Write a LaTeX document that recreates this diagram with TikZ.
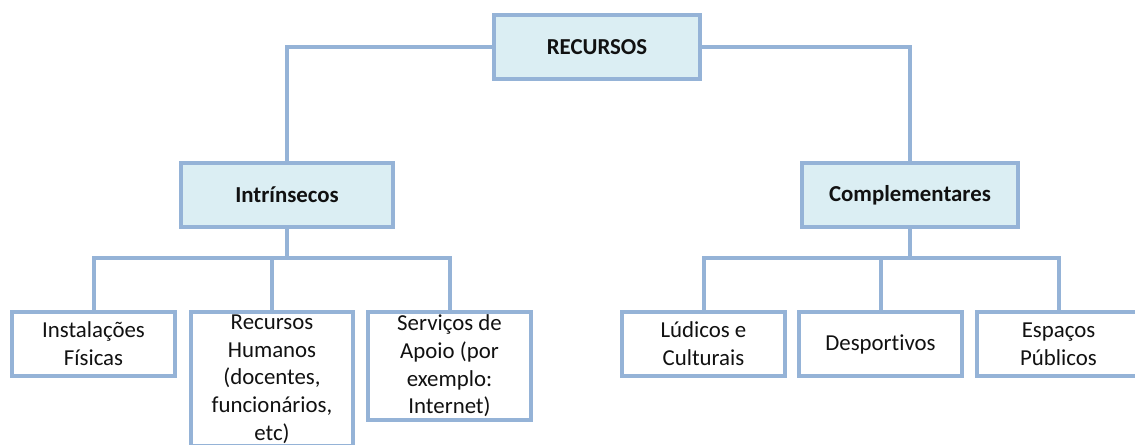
\documentclass[tikz,border=0pt]{standalone}
\usepackage{fontspec}
\setmainfont{Carlito}[Ligatures=NoCommon]
\usetikzlibrary{positioning}
\definecolor{lnblue}{HTML}{95B3D7}
\definecolor{hdfill}{HTML}{DBEEF3}
\definecolor{txtblk}{HTML}{111111}

\begin{document}
\begin{tikzpicture}[x=0.02cm, y=-0.02cm,
  head/.style={rectangle, draw=lnblue, line width=0.08cm, fill=hdfill,
    minimum height=1.28cm, text=txtblk, font=\fontsize{13}{15.8}\selectfont\bfseries},
  leaf/.style={rectangle, draw=lnblue, line width=0.08cm, fill=white,
    minimum width=3.26cm, minimum height=1.28cm, align=center, text=txtblk,
    font=\fontsize{13}{15.8}\selectfont},
  link/.style={draw=lnblue, line width=0.08cm},
]

% Page
\useasboundingbox (0,0) rectangle (1135,444);
\clip (0,0) rectangle (1135,444);

% Top levels
\node[head, minimum width=4.14cm] (rec) at (597,47) {RECURSOS};
\node[head, minimum width=4.24cm] (intr) at (287,195) {Intrínsecos};
\node[head, minimum width=4.32cm] (comp) at (910,195) {Complementares};

\draw[link] (rec.west) -| (intr.north);
\draw[link] (rec.east) -| (comp.north);

% Left branch
\node[leaf] (inst) at (93.5,344) {Instalações\\Físicas};
\node[leaf, anchor=north, inner ysep=1.5pt] (hum) at (272,310)
  {Recursos\\Humanos\\(docentes,\\funcionários,\\etc)};
\node[leaf, anchor=north, inner ysep=1.5pt] (serv) at (449.5,310)
  {Serviços de\\Apoio (por\\exemplo:\\Internet)};

\coordinate (busl) at (287,258);
\draw[link] (intr.south) -- (busl);
\draw[link] (busl) -| (inst.north);
\draw[link] (busl) -| (hum.north);
\draw[link] (busl) -| (serv.north);

% Right branch
\node[leaf] (lud) at (703.5,344) {Lúdicos e\\Culturais};
\node[leaf] (desp) at (880.5,344) {Desportivos};
\node[leaf] (esp) at (1058.5,344) {Espaços\\Públicos};

\coordinate (busr) at (910,258);
\draw[link] (comp.south) -- (busr);
\draw[link] (busr) -| (lud.north);
\draw[link] (busr) -| (desp.north);
\draw[link] (busr) -| (esp.north);
\end{tikzpicture}
\end{document}
